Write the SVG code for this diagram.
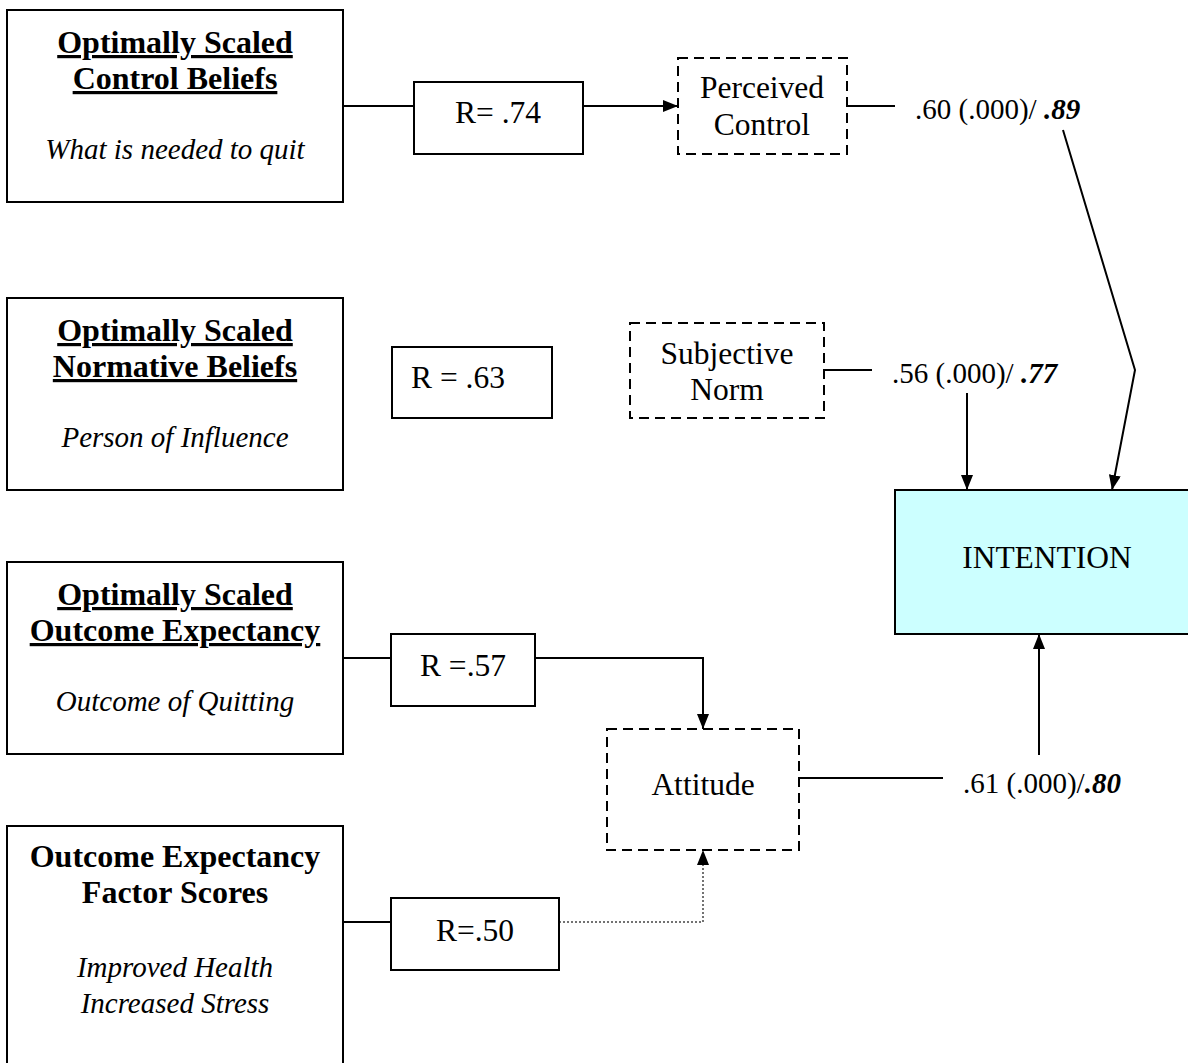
<svg xmlns="http://www.w3.org/2000/svg" width="1188" height="1063" viewBox="0 0 1188 1063">
<style>
.box{fill:#fff;stroke:#000;stroke-width:2}
.dash{fill:#fff;stroke:#000;stroke-width:2;stroke-dasharray:10 6}
.int{fill:#ccffff;stroke:#000;stroke-width:2}
.t{font-family:"Liberation Serif","Times New Roman",serif;font-size:31.5px;fill:#000;text-anchor:middle}
.tb{font-family:"Liberation Serif","Times New Roman",serif;font-size:32px;font-weight:bold;fill:#000;text-anchor:middle}
.u{text-decoration:underline}
.ti{font-family:"Liberation Serif","Times New Roman",serif;font-size:29px;font-style:italic;fill:#000;text-anchor:middle}
.lb{font-family:"Liberation Serif","Times New Roman",serif;font-size:29px;fill:#000}
.bi{font-weight:bold;font-style:italic}
.c{fill:none;stroke:#000;stroke-width:2}
.dot{fill:none;stroke:#444;stroke-width:1.5;stroke-dasharray:2 2}
</style>
<defs>
<marker id="ah" viewBox="0 0 15 12" refX="15" refY="6" markerWidth="15" markerHeight="12" markerUnits="userSpaceOnUse" orient="auto">
<path d="M0,0 L15,6 L0,12 z" fill="#000"/>
</marker>
</defs>

<g id="connectors">
<line class="c" x1="343" y1="106" x2="414" y2="106"/>
<line class="c" x1="583" y1="106" x2="678" y2="106" marker-end="url(#ah)"/>
<line class="c" x1="847" y1="106" x2="895" y2="106"/>
<polyline class="c" points="1063,130 1135,370 1112,490" marker-end="url(#ah)"/>
<line class="c" x1="824" y1="370" x2="872" y2="370"/>
<line class="c" x1="967" y1="393" x2="967" y2="490" marker-end="url(#ah)"/>
<line class="c" x1="343" y1="658" x2="391" y2="658"/>
<polyline class="c" points="535,658 703,658 703,729" marker-end="url(#ah)"/>
<line class="c" x1="343" y1="922" x2="391" y2="922"/>
<polyline class="dot" points="559,922 703,922 703,862"/>
<path d="M703,850 L697,865 L709,865 z" fill="#000"/>
<line class="c" x1="799" y1="778" x2="943" y2="778"/>
<line class="c" x1="1039" y1="755" x2="1039" y2="634" marker-end="url(#ah)"/>
</g>

<g id="control-beliefs">
<rect class="box" x="7" y="10" width="336" height="192"/>
<text class="tb u" x="175" y="53">Optimally Scaled</text>
<text class="tb u" x="175" y="89">Control Beliefs</text>
<text class="ti" x="175" y="159">What is needed to quit</text>
</g>

<g id="normative-beliefs">
<rect class="box" x="7" y="298" width="336" height="192"/>
<text class="tb u" x="175" y="341">Optimally Scaled</text>
<text class="tb u" x="175" y="377">Normative Beliefs</text>
<text class="ti" x="175" y="447">Person of Influence</text>
</g>

<g id="outcome-expectancy">
<rect class="box" x="7" y="562" width="336" height="192"/>
<text class="tb u" x="175" y="605">Optimally Scaled</text>
<text class="tb u" x="175" y="641">Outcome Expectancy</text>
<text class="ti" x="175" y="711">Outcome of Quitting</text>
</g>

<g id="factor-scores">
<rect class="box" x="7" y="826" width="336" height="250"/>
<text class="tb" x="175" y="867">Outcome Expectancy</text>
<text class="tb" x="175" y="903">Factor Scores</text>
<text class="ti" x="175" y="977">Improved Health</text>
<text class="ti" x="175" y="1013">Increased Stress</text>
</g>

<g id="r74">
<rect class="box" x="414" y="82" width="169" height="72"/>
<text class="t" x="498" y="123">R= .74</text>
</g>

<g id="r63">
<rect class="box" x="392" y="347" width="160" height="71"/>
<text class="t" x="458" y="388">R = .63</text>
</g>

<g id="r57">
<rect class="box" x="391" y="634" width="144" height="72"/>
<text class="t" x="463" y="676">R =.57</text>
</g>

<g id="r50">
<rect class="box" x="391" y="898" width="168" height="72"/>
<text class="t" x="475" y="941">R=.50</text>
</g>

<g id="perceived-control">
<rect class="dash" x="678" y="58" width="169" height="96"/>
<text class="t" x="762" y="98">Perceived</text>
<text class="t" x="762" y="135">Control</text>
</g>

<g id="subjective-norm">
<rect class="dash" x="630" y="323" width="194" height="95"/>
<text class="t" x="727" y="364">Subjective</text>
<text class="t" x="727" y="400">Norm</text>
</g>

<g id="attitude">
<rect class="dash" x="607" y="729" width="192" height="121"/>
<text class="t" x="703" y="795">Attitude</text>
</g>

<g id="intention">
<rect class="int" x="895" y="490" width="300" height="144"/>
<text class="t" x="1047" y="568">INTENTION</text>
</g>

<g id="labels">
<text class="lb" x="915" y="119">.60 (.000)/ <tspan class="bi">.89</tspan></text>
<text class="lb" x="892" y="383">.56 (.000)/ <tspan class="bi">.77</tspan></text>
<text class="lb" x="963" y="793">.61 (.000)/<tspan class="bi">.80</tspan></text>
</g>
</svg>
